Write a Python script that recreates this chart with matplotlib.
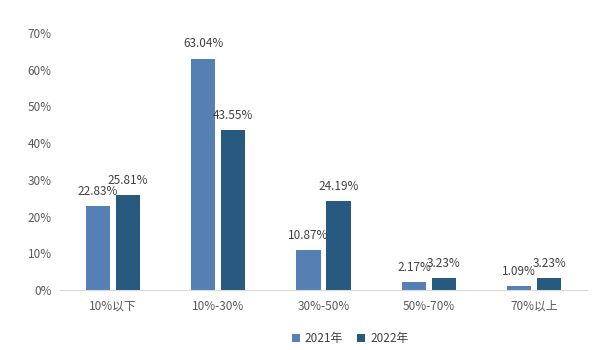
import matplotlib
matplotlib.use("Agg")
import matplotlib.pyplot as plt
import numpy as np
from matplotlib.ticker import FuncFormatter

plt.rcParams['font.family'] = ['Noto Sans CJK SC', 'DejaVu Sans']

categories = ["10%以下", "10%-30%", "30%-50%", "50%-70%", "70%以上"]
series_names = ["2021年", "2022年"]
values_2021 = [22.83, 63.04, 10.87, 2.17, 1.09]
values_2022 = [25.81, 43.55, 24.19, 3.23, 3.23]
colors = ["#5680b4", "#285a80"]

fig = plt.figure(figsize=(6.11, 3.5), dpi=100)
ax = fig.add_axes([0.0982, 0.1714, 0.8625, 0.7343])

x = np.arange(len(categories))
w = 0.23
off = 0.142
b1 = ax.bar(x - off, values_2021, w, color=colors[0], label=series_names[0])
b2 = ax.bar(x + off, values_2022, w, color=colors[1], label=series_names[1])

for bars, vals in [(b1, values_2021), (b2, values_2022)]:
    for r, v in zip(bars, vals):
        ax.annotate(f"{v:.2f}%", (r.get_x() + r.get_width() / 2, v),
                    xytext=(0, 6), textcoords="offset points",
                    ha="center", va="bottom", fontsize=8.5, color="#404040")

ax.set_xlim(-0.5, len(categories) - 0.5)
ax.set_ylim(0, 70)
ax.set_yticks(np.arange(0, 71, 10))
ax.yaxis.set_major_formatter(FuncFormatter(lambda v, p: f"{v:.0f}%"))
ax.set_xticks(x)
ax.set_xticklabels(categories)
ax.tick_params(axis="both", length=0, labelsize=8.5, labelcolor="#595959")
ax.tick_params(axis="y", pad=6)
ax.tick_params(axis="x", pad=7)
for s in ["top", "right", "left"]:
    ax.spines[s].set_visible(False)
ax.spines["bottom"].set_color("#d9d9d9")

leg = fig.legend(handles=[b1, b2], labels=series_names, loc="center",
                 bbox_to_anchor=(0.573, 0.032), ncol=2, frameon=False,
                 fontsize=8.5, handlelength=0.7, handleheight=0.7,
                 handletextpad=0.4, columnspacing=1.2)
for t in leg.get_texts():
    t.set_color("#404040")

fig.savefig("out.png", dpi=100)
